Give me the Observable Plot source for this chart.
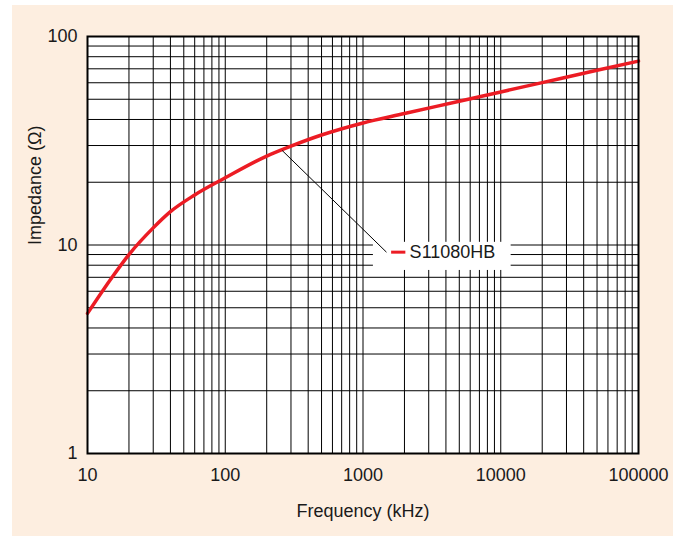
<!DOCTYPE html>
<html>
<head>
<meta charset="utf-8">
<script src="https://cdn.jsdelivr.net/npm/d3@7"></script>
<script src="https://cdn.jsdelivr.net/npm/@observablehq/plot@0.6"></script>
<style>
  html, body { margin: 0; padding: 0; background: #ffffff; }
  #wrap { position: relative; width: 685px; height: 536px; overflow: hidden; }
  #panel { position: absolute; left: 12px; top: 5px; width: 661px; height: 531px; background: #fdeee0; }
  #chart { position: absolute; left: 0; top: 0; }
</style>
</head>
<body>
<div id="wrap"><div id="panel"></div><div id="chart"></div></div>
<script>
// Frequency (kHz) and impedance (Ω)
const frequency = [10, 15, 20, 30, 40, 60, 100, 200, 300, 500, 1000, 2000, 5000, 10000, 20000, 50000, 100000];
const impedance = [4.70, 6.97, 9.00, 12.08, 14.45, 17.38, 21.0, 26.7, 29.8, 33.7, 38.5, 42.7, 48.9, 54.2, 60.1, 68.9, 76.2];

const xTicks = [10, 100, 1000, 10000, 100000];
const yTicks = [1, 10, 100];
const xDomain = [10, 100000];
const yDomain = [1, 100];

const seriesName = "S11080HB";
// annotation (in data units)
const labelBox = [{x1: 1190, x2: 11900, y1: 7.55, y2: 10.3}];
const leader = [{x1: 259, y1: 28.4, x2: 1480, y2: 9.24}];
const legendDash = [{x1: 1600, y1: 9.24, x2: 2030, y2: 9.24}];
const labelPos = [{x: 2180, y: 9.2, text: seriesName}];

const data = frequency.map((f, i) => ({f, z: impedance[i]}));
const xGrid = d3.scaleLog().domain(xDomain).ticks();
const yGrid = d3.scaleLog().domain(yDomain).ticks();

const FONT = "'Liberation Sans', Arial, Helvetica, sans-serif";
const RED = "#ec1c24";

const chart = Plot.plot({
  width: 685,
  height: 536,
  marginLeft: 87,
  marginRight: 47,
  marginTop: 36,
  marginBottom: 83,
  style: {background: "transparent", fontFamily: FONT, fontSize: "18px", color: "#1a1a1a"},
  x: {type: "log", domain: xDomain},
  y: {type: "log", domain: yDomain},
  marks: [
    Plot.frame({fill: "white"}),
    Plot.ruleX(xGrid, {stroke: "#000", strokeWidth: 1}),
    Plot.ruleY(yGrid, {stroke: "#000", strokeWidth: 1}),
    Plot.rect(labelBox, {x1: "x1", x2: "x2", y1: "y1", y2: "y2", fill: "white"}),
    Plot.line(data, {x: "f", y: "z", stroke: RED, strokeWidth: 3.5, curve: "monotone-x"}),
    Plot.link(leader, {x1: "x1", y1: "y1", x2: "x2", y2: "y2", stroke: "#000", strokeWidth: 1}),
    Plot.link(legendDash, {x1: "x1", y1: "y1", x2: "x2", y2: "y2", stroke: RED, strokeWidth: 3}),
    Plot.text(labelPos, {x: "x", y: "y", text: "text", textAnchor: "start", fontSize: 18, fill: "#1a1a1a"}),
    Plot.frame({stroke: "#000", strokeWidth: 2}),
    Plot.axisX({ticks: xTicks, tickSize: 0, tickPadding: 15, tickFormat: d => String(d), label: null, fontSize: 18}),
    Plot.axisY({ticks: yTicks, tickSize: 0, tickPadding: 10, tickFormat: d => String(d), label: null, fontSize: 18}),
    Plot.text(["Frequency (kHz)"], {text: d => d, frameAnchor: "bottom", dy: 58, lineAnchor: "middle", fontSize: 18, fill: "#1a1a1a"}),
    Plot.text(["Impedance (Ω)"], {text: d => d, frameAnchor: "left", dx: -52, rotate: -90, lineAnchor: "middle", fontSize: 18, fill: "#1a1a1a"})
  ]
});
document.getElementById("chart").appendChild(chart);
</script>
</body>
</html>
